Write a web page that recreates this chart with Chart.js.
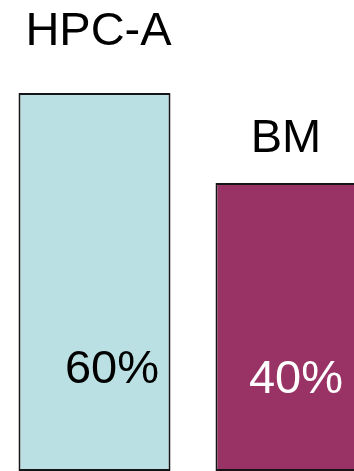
<!DOCTYPE html>
<html>
<head>
<meta charset="utf-8">
<script src="https://cdn.jsdelivr.net/npm/chart.js@4/dist/chart.umd.min.js"></script>
<style>
    body { margin: 0; background: #fff; overflow: hidden; }
    #wrap { position: relative; width: 354px; height: 471px; overflow: hidden; }
    #shareChart { position: absolute; left: -4px; top: 0; }
</style>
</head>
<body>
<div id="wrap">
    <canvas id="shareChart" width="394" height="471"></canvas>
</div>
<script>
const categories = ['HPC-A', 'BM'];
const shares = [60, 40];
const fillColors = ['#bbe0e3', '#993366'];
const valueColors = ['#000000', '#ffffff'];

// value axis range, bars start from the bottom of the plot
const yMin = -24;
const yMax = 80.67;

const FONT = '47px "Liberation Sans", Arial, sans-serif';

// name above each bar, share printed near the bottom of each bar
const nameOffset = [{ dx: 4, dy: -48 }, { dx: -5.5, dy: -31 }];
const valueOffset = [{ dx: 17.5, fromBottom: 88 }, { dx: 4.5, fromBottom: 78 }];

const barLabels = {
    id: 'barLabels',
    afterDatasetsDraw(chart) {
        const c = chart.ctx;
        const bottom = chart.chartArea.bottom;
        const bars = chart.getDatasetMeta(0).data;
        c.save();
        c.font = FONT;
        c.textAlign = 'center';
        c.textBaseline = 'alphabetic';
        bars.forEach((bar, i) => {
            c.fillStyle = '#000';
            c.fillText(categories[i], bar.x + nameOffset[i].dx, bar.y + nameOffset[i].dy);
            c.fillStyle = valueColors[i];
            c.fillText(shares[i] + '%', bar.x + valueOffset[i].dx, bottom - valueOffset[i].fromBottom);
        });
        c.restore();
    }
};

new Chart(document.getElementById('shareChart').getContext('2d'), {
    type: 'bar',
    data: {
        labels: categories,
        datasets: [{
            data: shares,
            base: yMin,
            backgroundColor: fillColors,
            borderColor: '#151515',
            borderWidth: 2,
            borderSkipped: false,
            categoryPercentage: 1,
            barPercentage: 0.7716
        }]
    },
    options: {
        responsive: false,
        devicePixelRatio: 1,
        animation: false,
        layout: { padding: 0 },
        plugins: {
            legend: { display: false },
            tooltip: { enabled: false }
        },
        scales: {
            x: { display: false },
            y: { display: false, min: yMin, max: yMax }
        }
    },
    plugins: [barLabels]
});
</script>
</body>
</html>
